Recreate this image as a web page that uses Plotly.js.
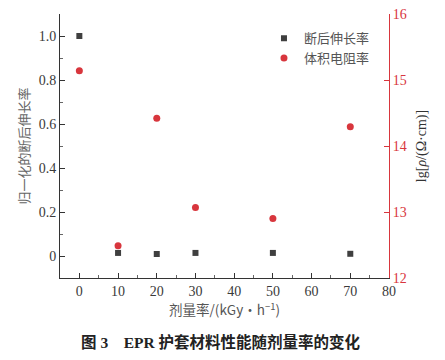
<!DOCTYPE html>
<html>
<head>
<meta charset="utf-8">
<script src="https://cdn.plot.ly/plotly-3.0.1.min.js"></script>
<style>html,body{margin:0;padding:0;background:#fff;}#chart{width:445px;height:360px;}</style>
</head>
<body>
<div id="chart"></div>
<script>
const doseRate = [0, 10, 20, 30, 50, 70];
const elongation = [1.0, 0.014, 0.009, 0.014, 0.014, 0.01];
const resistivity = [15.14, 12.49, 14.42, 13.07, 12.90, 14.29];
const leftTickVals = [0, 0.2, 0.4, 0.6, 0.8, 1.0];
const leftTickText = ['0', '0.2', '0.4', '0.6', '0.8', '1.0'];
const rightTickVals = [12, 13, 14, 15, 16];
const xTickVals = [0, 10, 20, 30, 40, 50, 60, 70, 80];
const seriesNames = ['断后伸长率', '体积电阻率'];

const serif = 'Liberation Serif, DejaVu Serif, serif';
const cjk = 'Noto Sans CJK SC, Noto Sans, sans-serif';
const red = '#d8363d';
const dark = '#3f3f3f';

const traces = [
  {x: doseRate, y: elongation, type: 'scatter', mode: 'markers', name: seriesNames[0],
   marker: {symbol: 'square', size: 6, color: dark}, yaxis: 'y'},
  {x: doseRate, y: resistivity, type: 'scatter', mode: 'markers', name: seriesNames[1],
   marker: {symbol: 'circle', size: 7, color: red}, yaxis: 'y2'}
];

const layout = {
  width: 445, height: 360,
  margin: {l: 60, r: 56, t: 14, b: 82},
  paper_bgcolor: '#fff', plot_bgcolor: '#fff',
  showlegend: true,
  legend: {x: 0.62, y: 0.965, xanchor: 'left', yanchor: 'top', bgcolor: 'rgba(0,0,0,0)',
           font: {family: cjk, size: 13, color: '#555'}, tracegroupgap: 0, itemwidth: 30},
  xaxis: {range: [-5, 80], tickvals: xTickVals, ticks: 'inside', ticklen: 5, tickcolor: '#333',
          showline: true, linecolor: '#333', linewidth: 1, showgrid: false, zeroline: false,
          tickfont: {family: serif, size: 14, color: '#3a3a3a'},
          minor: {dtick: 5, tick0: 0, ticks: 'inside', ticklen: 3, tickcolor: '#666'},
          title: {text: '剂量率/(kGy·h<sup>−1</sup>)', font: {family: cjk + ', ' + serif, size: 13.5, color: '#555'}, standoff: 2}},
  yaxis: {range: [-0.1, 1.1], tickvals: leftTickVals, ticktext: leftTickText, ticks: 'inside', ticklen: 5,
          tickcolor: '#333', showline: true, linecolor: '#333', linewidth: 1, showgrid: false, zeroline: false,
          tickfont: {family: serif, size: 14, color: '#3a3a3a'},
          minor: {dtick: 0.1, tick0: 0, ticks: 'inside', ticklen: 3, tickcolor: '#666'},
          title: {text: '归一化的断后伸长率', font: {family: cjk, size: 13, color: '#666'}, standoff: 6}},
  yaxis2: {range: [12, 16], tickvals: rightTickVals, overlaying: 'y', side: 'right', ticks: 'inside', ticklen: 5,
           tickcolor: red, showline: true, linecolor: red, linewidth: 1, showgrid: false, zeroline: false,
           tickfont: {family: serif, size: 14, color: red},
           title: {text: 'lg[<i>ρ</i>/(Ω·cm)]', font: {family: serif, size: 14, color: '#333'}, standoff: 10}},
  annotations: [
    {xref: 'paper', yref: 'paper', x: 0.49, y: -0.2, xanchor: 'center', yanchor: 'top', showarrow: false,
     text: '<b>图 3　EPR 护套材料性能随剂量率的变化</b>',
     font: {family: serif + ', Noto Sans CJK SC', size: 15.5, color: '#222'}}
  ]
};

Plotly.newPlot('chart', traces, layout, {displayModeBar: false, staticPlot: true});
</script>
</body>
</html>
